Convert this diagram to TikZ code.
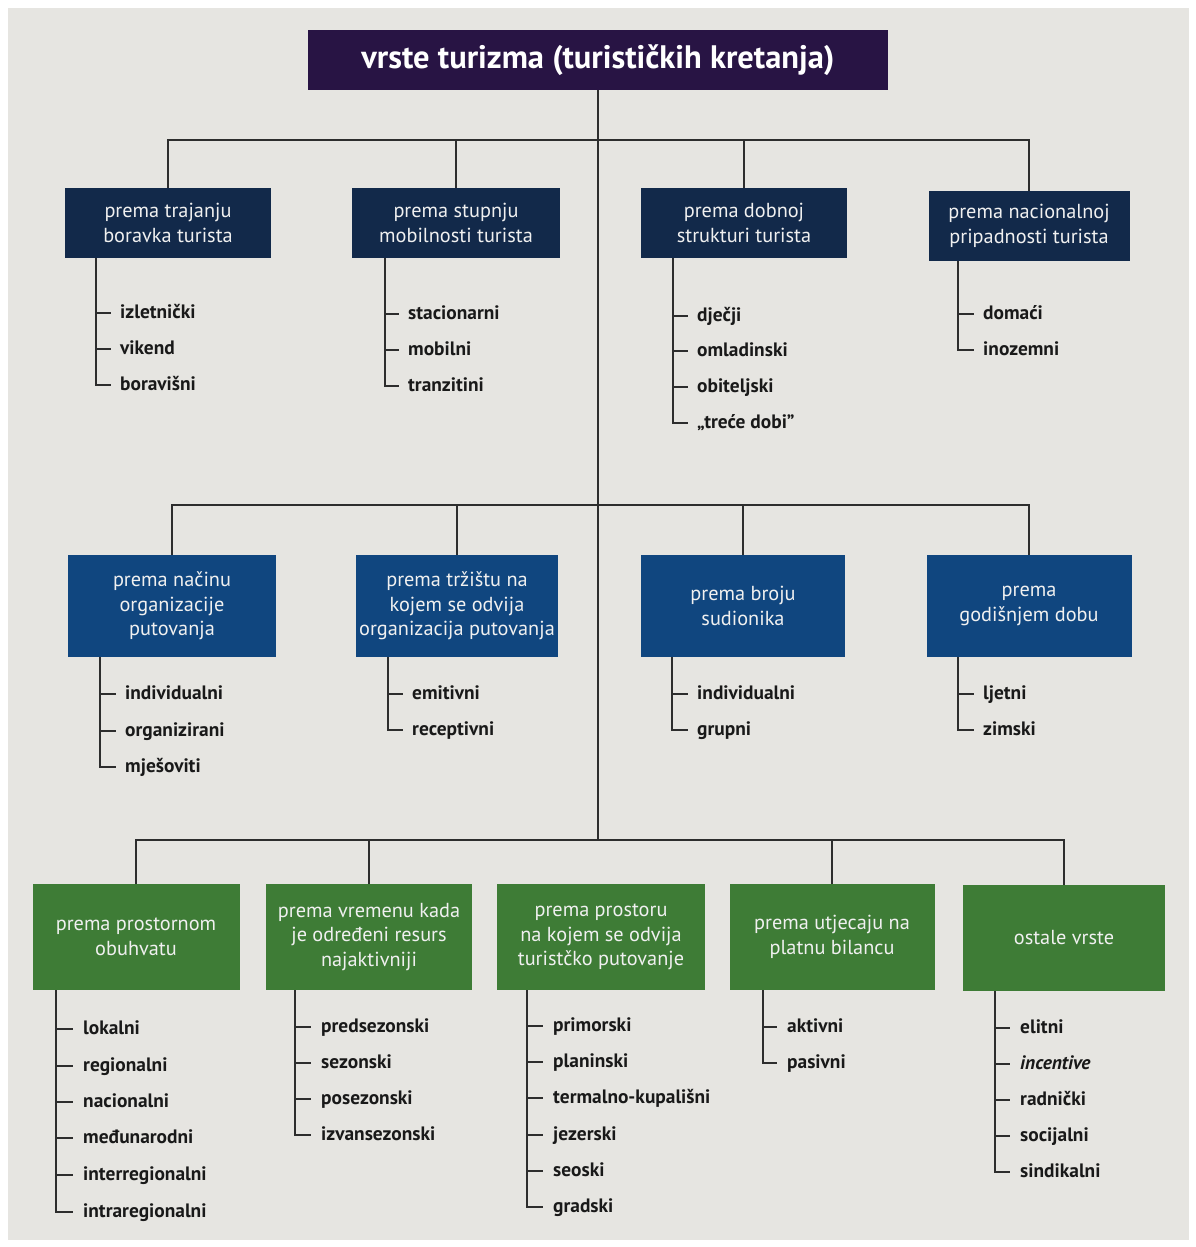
\documentclass[tikz,border=0pt]{standalone}
\usepackage{fontspec}
\setmainfont{PT Sans}
\definecolor{pagegray}{RGB}{230,229,225}
\definecolor{topviolet}{RGB}{40,20,68}
\definecolor{rowonenavy}{RGB}{18,41,74}
\definecolor{rowtwoblue}{RGB}{16,70,127}
\definecolor{rowthreegreen}{RGB}{62,124,54}
\definecolor{linegray}{RGB}{45,45,45}
\tikzset{
	topbox/.style={fill=topviolet,text=white,inner sep=0,minimum width=580,minimum height=60,font=\fontsize{32.5}{36}\selectfont\bfseries},
	kindbox/.style={inner sep=0,text=white!94!black,align=center,font=\fontsize{20.3}{24.5}\selectfont},
	navybox/.style={kindbox,fill=rowonenavy,minimum width=206,minimum height=70},
	bluebox/.style={kindbox,fill=rowtwoblue,minimum width=206,minimum height=102},
	greenbox/.style={kindbox,fill=rowthreegreen,minimum width=206,minimum height=106},
	leaf/.style={anchor=west,inner sep=0,text height=14,text depth=4,text=black!90,font=\fontsize{19.4}{24}\selectfont\bfseries},
	tree/.style={draw=linegray,line width=1.4pt},
}
\begin{document}
\begin{tikzpicture}[x=1pt,y=-1pt]
			\useasboundingbox (0,0) rectangle (1195,1247);
			\fill[white] (0,0) rectangle (1195,1247);
			\fill[pagegray] (8,8) rectangle (1189,1240);

			% glavni pojam
			\node[topbox] (vrste) at (598,60) {vrste turizma (turističkih kretanja)};

			% prvi red
			\node[navybox] (trajanje) at (168,223) {prema trajanju\\boravka turista};
			\node[navybox,minimum width=208] (stupanj) at (456,223) {prema stupnju\\mobilnosti turista};
			\node[navybox] (dob) at (744,223) {prema dobnoj\\strukturi turista};
			\node[navybox,minimum width=201] (nacija) at (1029,226) {prema nacionalnoj\\pripadnosti turista};

			% drugi red
			\node[bluebox,minimum width=208] (nacin) at (172,606) {prema načinu\\organizacije\\putovanja};
			\node[bluebox,minimum width=202] (trziste) at (457,606) {prema tržištu na\\kojem se odvija\\organizacija putovanja};
			\node[bluebox,minimum width=204] (broj) at (743,606) {prema broju\\sudionika};
			\node[bluebox,minimum width=205] (godina) at (1029,606) {prema\\godišnjem dobu};

			% treći red
			\node[greenbox,minimum width=207] (obuhvat) at (136,937) {prema prostornom\\obuhvatu};
			\node[greenbox] (resurs) at (369,937) {prema vremenu kada\\je određeni resurs\\najaktivniji};
			\node[greenbox,minimum width=208] (prostor) at (601,937) {prema prostoru\\na kojem se odvija\\turistčko putovanje};
			\node[greenbox,minimum width=205] (bilanca) at (832,937) {prema utjecaju na\\platnu bilancu};
			\node[greenbox,minimum width=202] (ostale) at (1064,938) {ostale vrste};

			% sabirnice
			\coordinate (busone) at (598,140);
			\coordinate (bustwo) at (598,505);
			\coordinate (busthree) at (598,840);

			\draw[tree] (vrste.south) -- (busthree);
			\draw[tree] (trajanje.north) |- (busone) -| (nacija.north);
			\draw[tree] (stupanj.north) -- (stupanj.north |- busone);
			\draw[tree] (dob.north) -- (dob.north |- busone);
			\draw[tree] (nacin.north) |- (bustwo) -| (godina.north);
			\draw[tree] (trziste.north) -- (trziste.north |- bustwo);
			\draw[tree] (broj.north) -- (broj.north |- bustwo);
			\draw[tree] (obuhvat.north) |- (busthree) -| (ostale.north);
			\draw[tree] (resurs.north) -- (resurs.north |- busthree);
			\draw[tree] (bilanca.north) -- (bilanca.north |- busthree);

			% listovi, prvi red
			\node[leaf] (izletnicki) at (120,313) {izletnički};
			\node[leaf] (vikend) at (120,349) {vikend};
			\node[leaf] (boravisni) at (120,385) {boravišni};
			\coordinate (spinea) at (96,0);
			\draw[tree] (trajanje.south -| spinea) |- ([xshift=-9]boravisni.west);
			\draw[tree] (izletnicki.west -| spinea) -- ([xshift=-9]izletnicki.west);
			\draw[tree] (vikend.west -| spinea) -- ([xshift=-9]vikend.west);

			\node[leaf] (stacionarni) at (408,314) {stacionarni};
			\node[leaf] (mobilni) at (408,350) {mobilni};
			\node[leaf] (tranzitini) at (408,386) {tranzitini};
			\coordinate (spineb) at (385,0);
			\draw[tree] (stupanj.south -| spineb) |- ([xshift=-9]tranzitini.west);
			\draw[tree] (stacionarni.west -| spineb) -- ([xshift=-9]stacionarni.west);
			\draw[tree] (mobilni.west -| spineb) -- ([xshift=-9]mobilni.west);

			\node[leaf] (djecji) at (697,316) {dječji};
			\node[leaf] (omladinski) at (697,351) {omladinski};
			\node[leaf] (obiteljski) at (697,387) {obiteljski};
			\node[leaf] (trecedobi) at (697,423) {„treće dobi”};
			\coordinate (spinec) at (673,0);
			\draw[tree] (dob.south -| spinec) |- ([xshift=-9]trecedobi.west);
			\draw[tree] (djecji.west -| spinec) -- ([xshift=-9]djecji.west);
			\draw[tree] (omladinski.west -| spinec) -- ([xshift=-9]omladinski.west);
			\draw[tree] (obiteljski.west -| spinec) -- ([xshift=-9]obiteljski.west);

			\node[leaf] (domaci) at (983,314) {domaći};
			\node[leaf] (inozemni) at (983,350) {inozemni};
			\coordinate (spined) at (958,0);
			\draw[tree] (nacija.south -| spined) |- ([xshift=-9]inozemni.west);
			\draw[tree] (domaci.west -| spined) -- ([xshift=-9]domaci.west);

			% listovi, drugi red
			\node[leaf] (individualnia) at (125,694) {individualni};
			\node[leaf] (organizirani) at (125,731) {organizirani};
			\node[leaf] (mjesoviti) at (125,767) {mješoviti};
			\coordinate (spinee) at (100,0);
			\draw[tree] (nacin.south -| spinee) |- ([xshift=-9]mjesoviti.west);
			\draw[tree] (individualnia.west -| spinee) -- ([xshift=-9]individualnia.west);
			\draw[tree] (organizirani.west -| spinee) -- ([xshift=-9]organizirani.west);

			\node[leaf] (emitivni) at (412,694) {emitivni};
			\node[leaf] (receptivni) at (412,730) {receptivni};
			\coordinate (spinef) at (388,0);
			\draw[tree] (trziste.south -| spinef) |- ([xshift=-9]receptivni.west);
			\draw[tree] (emitivni.west -| spinef) -- ([xshift=-9]emitivni.west);

			\node[leaf] (individualnib) at (697,694) {individualni};
			\node[leaf] (grupni) at (697,730) {grupni};
			\coordinate (spineg) at (672,0);
			\draw[tree] (broj.south -| spineg) |- ([xshift=-9]grupni.west);
			\draw[tree] (individualnib.west -| spineg) -- ([xshift=-9]individualnib.west);

			\node[leaf] (ljetni) at (983,694) {ljetni};
			\node[leaf] (zimski) at (983,730) {zimski};
			\coordinate (spineh) at (958,0);
			\draw[tree] (godina.south -| spineh) |- ([xshift=-9]zimski.west);
			\draw[tree] (ljetni.west -| spineh) -- ([xshift=-9]ljetni.west);

			% listovi, treći red
			\node[leaf] (lokalni) at (83,1029) {lokalni};
			\node[leaf] (regionalni) at (83,1066) {regionalni};
			\node[leaf] (nacionalni) at (83,1102) {nacionalni};
			\node[leaf] (medunarodni) at (83,1138) {međunarodni};
			\node[leaf] (interregionalni) at (83,1175) {interregionalni};
			\node[leaf] (intraregionalni) at (83,1212) {intraregionalni};
			\coordinate (spinei) at (56,0);
			\draw[tree] (obuhvat.south -| spinei) |- ([xshift=-10]intraregionalni.west);
			\draw[tree] (lokalni.west -| spinei) -- ([xshift=-10]lokalni.west);
			\draw[tree] (regionalni.west -| spinei) -- ([xshift=-10]regionalni.west);
			\draw[tree] (nacionalni.west -| spinei) -- ([xshift=-10]nacionalni.west);
			\draw[tree] (medunarodni.west -| spinei) -- ([xshift=-10]medunarodni.west);
			\draw[tree] (interregionalni.west -| spinei) -- ([xshift=-10]interregionalni.west);

			\node[leaf] (predsezonski) at (321,1027) {predsezonski};
			\node[leaf] (sezonski) at (321,1063) {sezonski};
			\node[leaf] (posezonski) at (321,1099) {posezonski};
			\node[leaf] (izvansezonski) at (321,1135) {izvansezonski};
			\coordinate (spinej) at (295,0);
			\draw[tree] (resurs.south -| spinej) |- ([xshift=-10]izvansezonski.west);
			\draw[tree] (predsezonski.west -| spinej) -- ([xshift=-10]predsezonski.west);
			\draw[tree] (sezonski.west -| spinej) -- ([xshift=-10]sezonski.west);
			\draw[tree] (posezonski.west -| spinej) -- ([xshift=-10]posezonski.west);

			\node[leaf] (primorski) at (553,1026) {primorski};
			\node[leaf] (planinski) at (553,1062) {planinski};
			\node[leaf] (termalno) at (553,1098) {termalno-kupališni};
			\node[leaf] (jezerski) at (553,1135) {jezerski};
			\node[leaf] (seoski) at (553,1171) {seoski};
			\node[leaf] (gradski) at (553,1207) {gradski};
			\coordinate (spinek) at (527,0);
			\draw[tree] (prostor.south -| spinek) |- ([xshift=-10]gradski.west);
			\draw[tree] (primorski.west -| spinek) -- ([xshift=-10]primorski.west);
			\draw[tree] (planinski.west -| spinek) -- ([xshift=-10]planinski.west);
			\draw[tree] (termalno.west -| spinek) -- ([xshift=-10]termalno.west);
			\draw[tree] (jezerski.west -| spinek) -- ([xshift=-10]jezerski.west);
			\draw[tree] (seoski.west -| spinek) -- ([xshift=-10]seoski.west);

			\node[leaf] (aktivni) at (787,1027) {aktivni};
			\node[leaf] (pasivni) at (787,1063) {pasivni};
			\coordinate (spinel) at (763,0);
			\draw[tree] (bilanca.south -| spinel) |- ([xshift=-10]pasivni.west);
			\draw[tree] (aktivni.west -| spinel) -- ([xshift=-10]aktivni.west);

			\node[leaf] (elitni) at (1020,1028) {elitni};
			\node[leaf] (incentive) at (1020,1064) {\textit{incentive}};
			\node[leaf] (radnicki) at (1020,1100) {radnički};
			\node[leaf] (socijalni) at (1020,1136) {socijalni};
			\node[leaf] (sindikalni) at (1020,1172) {sindikalni};
			\coordinate (spinem) at (995,0);
			\draw[tree] (ostale.south -| spinem) |- ([xshift=-10]sindikalni.west);
			\draw[tree] (elitni.west -| spinem) -- ([xshift=-10]elitni.west);
			\draw[tree] (incentive.west -| spinem) -- ([xshift=-10]incentive.west);
			\draw[tree] (radnicki.west -| spinem) -- ([xshift=-10]radnicki.west);
			\draw[tree] (socijalni.west -| spinem) -- ([xshift=-10]socijalni.west);
	\end{tikzpicture}
\end{document}
